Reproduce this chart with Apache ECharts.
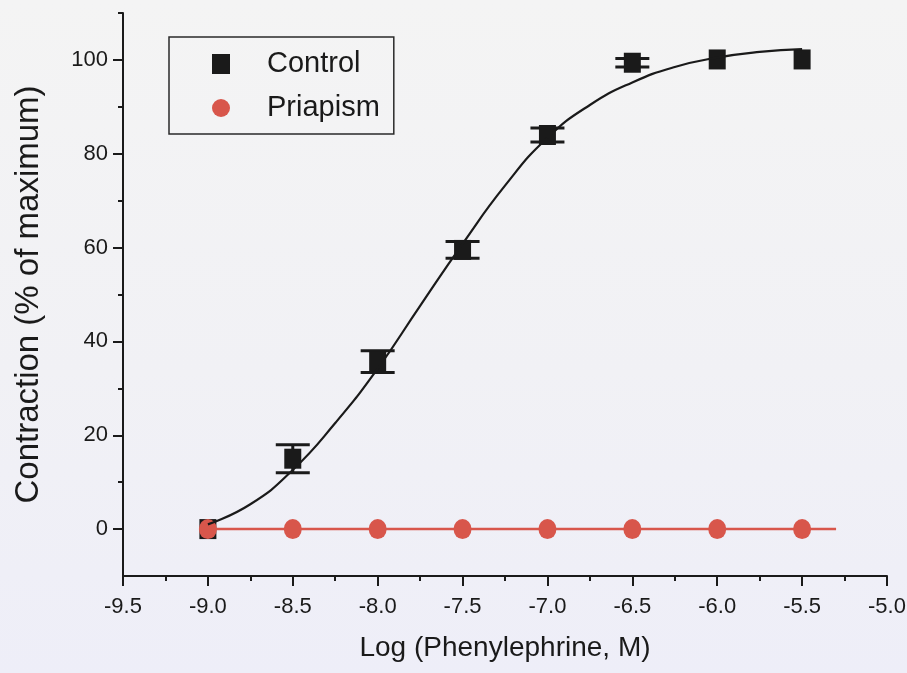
<!DOCTYPE html>
<html>
<head>
<meta charset="utf-8">
<script src="https://cdn.jsdelivr.net/npm/echarts@6/dist/echarts.min.js"></script>
<style>
  html, body { margin: 0; padding: 0; }
  #chart { width: 907px; height: 673px; }
</style>
</head>
<body>
<div id="chart"></div>
<script>
// ---- data ----
const logConc = [-9.0, -8.5, -8.0, -7.5, -7.0, -6.5, -6.0, -5.5];
const controlMean = [0, 15.0, 35.7, 59.5, 84.0, 99.4, 100.1, 100.1];
const controlSEM = [0, 3.0, 2.3, 1.8, 1.5, 0.9, 0, 0];
const priapismMean = [0, 0, 0, 0, 0, 0, 0, 0];

// fitted curve
const fitControlX = [-9.0, -8.75, -8.5, -8.25, -8.0, -7.75, -7.5, -7.25, -7.0, -6.75, -6.5, -6.25, -6.0, -5.75, -5.5];
const fitControlY = [1.0, 5.3, 12.6, 22.6, 34.2, 47.6, 60.8, 73.2, 83.4, 90.4, 95.2, 98.5, 100.5, 101.7, 102.3];
const fitPriapismX = [-9.0, -5.3];
const fitPriapismY = [0, 0];

// axis ticks
const yMajorTicks = [0, 20, 40, 60, 80, 100];
const yMinorTicks = [10, 30, 50, 70, 90, 110];
const xTickLabels = ['-9.5', '-9.0', '-8.5', '-8.0', '-7.5', '-7.0', '-6.5', '-6.0', '-5.5', '-5.0'];

const seriesNames = ['Control', 'Priapism'];
const xTitle = 'Log (Phenylephrine, M)';
const yTitle = 'Contraction (% of maximum)';

// ---- build ----
const FONT = '"Liberation Sans", Arial, sans-serif';
const INK = '#1a1a1a';
const RED = '#d8564b';

const zip = (xs, ys) => xs.map((x, i) => [x, ys[i]]);
const errData = logConc
  .map((x, i) => [x, controlMean[i] - controlSEM[i], controlMean[i] + controlSEM[i], controlSEM[i]])
  .filter(d => d[3] > 0);

const chart = echarts.init(document.getElementById('chart'), null, { renderer: 'canvas' });

chart.setOption({
  animation: false,
  backgroundColor: {
    type: 'linear', x: 0, y: 0, x2: 0, y2: 1,
    colorStops: [
      { offset: 0, color: '#f4f4f4' },
      { offset: 0.55, color: '#f1f1f5' },
      { offset: 1, color: '#eeeef8' }
    ]
  },
  textStyle: { fontFamily: FONT },
  grid: { left: 123, right: 20, top: 13, bottom: 97, outerBoundsMode: 'none' },
  legend: {
    orient: 'vertical',
    left: 169,
    top: 37,
    padding: [11, 14, 10, 43],
    itemGap: 12,
    itemWidth: 18,
    itemHeight: 20,
    borderColor: '#2a2a2a',
    borderWidth: 1.5,
    selectedMode: false,
    itemStyle: { opacity: 1 },
    textStyle: { fontSize: 29, color: INK, fontFamily: FONT, lineHeight: 32, padding: [0, 0, 0, 32] },
    data: [
      { name: seriesNames[0], icon: 'rect' },
      { name: seriesNames[1], icon: 'circle' }
    ]
  },
  xAxis: {
    type: 'value',
    min: -9.5,
    max: -5.0,
    interval: 0.5,
    name: xTitle,
    nameLocation: 'middle',
    nameGap: 58,
    nameTextStyle: { fontSize: 28, color: INK, fontFamily: FONT },
    axisLine: { onZero: false, lineStyle: { color: INK, width: 2 } },
    axisTick: { inside: false, length: 10, lineStyle: { color: INK, width: 2 } },
    minorTick: { show: true, splitNumber: 2, length: 5, lineStyle: { color: INK, width: 2 } },
    splitLine: { show: false },
    axisLabel: {
      fontSize: 22, color: INK, margin: 20, fontFamily: FONT,
      formatter: (v) => {
        const s = v.toFixed(1);
        return xTickLabels.indexOf(s) >= 0 ? s : '';
      }
    }
  },
  yAxis: [
    {
      type: 'value',
      min: -10,
      max: 110,
      name: yTitle,
      nameLocation: 'middle',
      nameGap: 78,
      nameRotate: 90,
      nameTextStyle: { fontSize: 33, color: INK, fontFamily: FONT },
      axisLine: { show: true, onZero: false, lineStyle: { color: INK, width: 2 } },
      axisTick: { show: true, inside: false, length: 10, customValues: yMajorTicks, lineStyle: { color: INK, width: 2 } },
      axisLabel: { fontSize: 22, color: INK, margin: 15, fontFamily: FONT, customValues: yMajorTicks },
      splitLine: { show: false }
    },
    {
      type: 'value',
      min: -10,
      max: 110,
      position: 'left',
      axisLine: { show: false, onZero: false },
      axisTick: { show: true, inside: false, length: 5, customValues: yMinorTicks, lineStyle: { color: INK, width: 2 } },
      axisLabel: { show: false, customValues: yMinorTicks },
      splitLine: { show: false }
    }
  ],
  series: [
    {
      name: 'errorbars',
      type: 'custom',
      z: 1,
      silent: true,
      data: errData,
      renderItem: (params, api) => {
        const x = api.value(0);
        const lo = api.coord([x, api.value(1)]);
        const hi = api.coord([x, api.value(2)]);
        const half = 17;
        const style = { stroke: INK, lineWidth: 3 };
        return {
          type: 'group',
          children: [
            { type: 'line', shape: { x1: lo[0], y1: lo[1], x2: hi[0], y2: hi[1] }, style },
            { type: 'line', shape: { x1: lo[0] - half, y1: lo[1], x2: lo[0] + half, y2: lo[1] }, style },
            { type: 'line', shape: { x1: hi[0] - half, y1: hi[1], x2: hi[0] + half, y2: hi[1] }, style }
          ]
        };
      }
    },
    {
      name: seriesNames[0],
      type: 'scatter',
      z: 2,
      symbol: 'rect',
      symbolSize: [17, 20],
      itemStyle: { color: INK, opacity: 1 },
      data: zip(logConc, controlMean)
    },
    {
      name: 'priapismFit',
      type: 'line',
      z: 3,
      silent: true,
      showSymbol: false,
      symbol: 'none',
      lineStyle: { color: RED, width: 2.5 },
      data: zip(fitPriapismX, fitPriapismY)
    },
    {
      name: seriesNames[1],
      type: 'scatter',
      z: 4,
      symbol: 'circle',
      symbolSize: [18, 20],
      itemStyle: { color: RED, opacity: 1 },
      data: zip(logConc, priapismMean)
    },
    {
      name: 'controlFit',
      type: 'line',
      z: 5,
      silent: true,
      smooth: 0.5,
      showSymbol: false,
      symbol: 'none',
      lineStyle: { color: INK, width: 2.2 },
      data: zip(fitControlX, fitControlY)
    }
  ]
});
</script>
</body>
</html>
